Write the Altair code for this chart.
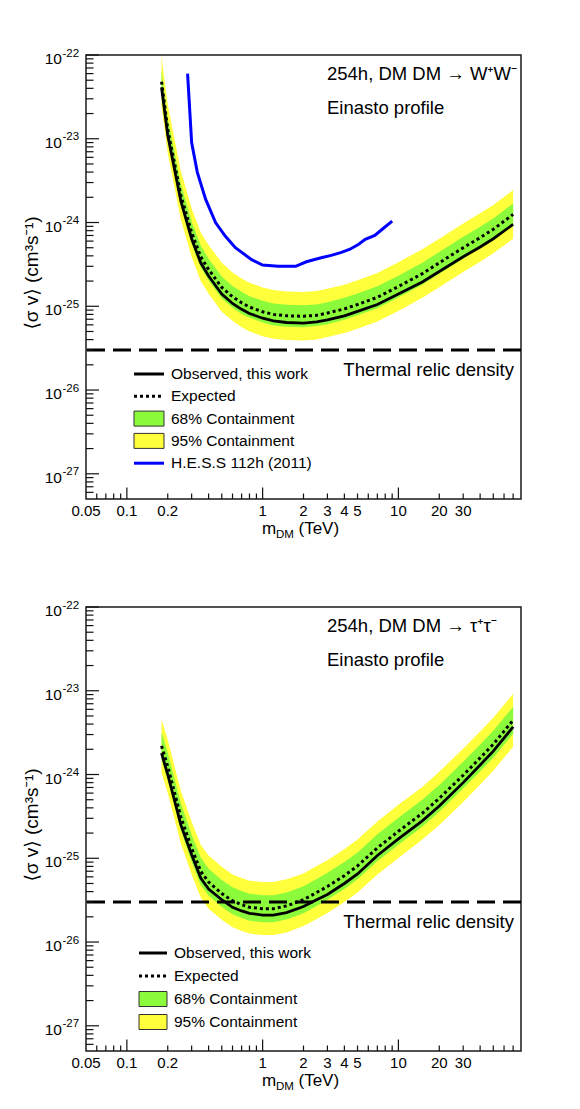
import altair as alt
import pandas as pd

FONT = "Liberation Sans, Noto Sans, DejaVu Sans"
YELLOW = "#ffff3c"
GREEN = "#8cfb3c"
BLUE = "#0000ff"
INK = "#111111"

# ---------------- data ----------------
mass = [0.18, 0.2, 0.25, 0.3, 0.35, 0.4, 0.5, 0.6, 0.7, 0.8, 1.0, 1.2, 1.5,
        2.0, 2.5, 3.0, 4.0, 5.0, 7.0, 10, 15, 20, 30, 40, 50, 70]

# W+W- channel
ww_observed = [4.1e-23, 1.1e-23, 1.8e-24, 6.4e-25, 3.3e-25, 2.3e-25, 1.4e-25, 1.08e-25, 9.2e-26,
               8.2e-26, 7.2e-26, 6.7e-26, 6.4e-26, 6.3e-26, 6.5e-26, 6.9e-26, 7.7e-26, 8.7e-26,
               1.05e-25, 1.4e-25, 1.95e-25, 2.6e-25, 3.9e-25, 5.1e-25, 6.4e-25, 9.5e-25]
ww_expected = [4.8e-23, 1.3e-23, 2.1e-24, 7.6e-25, 3.9e-25, 2.75e-25, 1.68e-25, 1.3e-25, 1.1e-25,
               9.8e-26, 8.6e-26, 8.0e-26, 7.7e-26, 7.6e-26, 7.8e-26, 8.3e-26, 9.3e-26, 1.05e-25,
               1.28e-25, 1.72e-25, 2.45e-25, 3.3e-25, 5.0e-25, 6.6e-25, 8.3e-25, 1.25e-24]
ww_68_lo = [3.5e-23, 9.6e-24, 1.55e-24, 5.6e-25, 2.9e-25, 2.04e-25, 1.24e-25, 9.6e-26, 8.1e-26,
            7.3e-26, 6.4e-26, 5.9e-26, 5.7e-26, 5.6e-26, 5.8e-26, 6.1e-26, 6.9e-26, 7.8e-26,
            9.5e-26, 1.27e-25, 1.81e-25, 2.44e-25, 3.7e-25, 4.9e-25, 6.1e-25, 9.3e-25]
ww_68_hi = [6.6e-23, 1.75e-23, 2.85e-24, 1.03e-24, 5.3e-25, 3.7e-25, 2.27e-25, 1.75e-25, 1.49e-25,
            1.32e-25, 1.16e-25, 1.08e-25, 1.04e-25, 1.03e-25, 1.05e-25, 1.12e-25, 1.26e-25, 1.42e-25,
            1.73e-25, 2.32e-25, 3.3e-25, 4.45e-25, 6.75e-25, 8.9e-25, 1.12e-24, 1.69e-24]
ww_95_lo = [2.45e-23, 6.7e-24, 1.08e-24, 3.9e-25, 2.0e-25, 1.41e-25, 8.6e-26, 6.7e-26, 5.6e-26,
            5.0e-26, 4.4e-26, 4.1e-26, 3.95e-26, 3.9e-26, 4.0e-26, 4.3e-26, 4.8e-26, 5.4e-26,
            6.6e-26, 8.8e-26, 1.26e-25, 1.69e-25, 2.56e-25, 3.4e-25, 4.3e-25, 6.4e-25]
ww_95_hi = [9.5e-23, 2.55e-23, 4.1e-24, 1.48e-24, 7.6e-25, 5.4e-25, 3.3e-25, 2.53e-25, 2.15e-25,
            1.91e-25, 1.68e-25, 1.56e-25, 1.5e-25, 1.48e-25, 1.52e-25, 1.62e-25, 1.81e-25, 2.05e-25,
            2.5e-25, 3.35e-25, 4.8e-25, 6.4e-25, 9.75e-25, 1.29e-24, 1.62e-24, 2.44e-24]

# tau+tau- channel
tt_observed = [1.8e-24, 1.0e-24, 2.5e-25, 1.1e-25, 5.8e-26, 4.3e-26, 3.2e-26, 2.6e-26, 2.35e-26,
               2.2e-26, 2.1e-26, 2.1e-26, 2.25e-26, 2.65e-26, 3.2e-26, 3.7e-26, 5.0e-26, 6.5e-26,
               1.08e-25, 1.7e-25, 2.8e-25, 4.2e-25, 8.0e-25, 1.3e-24, 1.9e-24, 3.7e-24]
tt_expected = [2.2e-24, 1.25e-24, 3.1e-25, 1.32e-25, 7.0e-26, 5.2e-26, 3.8e-26, 3.1e-26, 2.8e-26,
               2.6e-26, 2.5e-26, 2.5e-26, 2.7e-26, 3.2e-26, 3.9e-26, 4.6e-26, 6.2e-26, 8.1e-26,
               1.33e-25, 2.1e-25, 3.45e-25, 5.2e-25, 9.8e-25, 1.58e-24, 2.3e-24, 4.45e-24]
tt_68_lo = [1.52e-24, 8.6e-25, 2.14e-25, 9.1e-26, 4.8e-26, 3.6e-26, 2.62e-26, 2.14e-26, 1.93e-26,
            1.79e-26, 1.72e-26, 1.72e-26, 1.86e-26, 2.2e-26, 2.7e-26, 3.2e-26, 4.3e-26, 5.6e-26,
            9.2e-26, 1.45e-25, 2.38e-25, 3.6e-25, 6.8e-25, 1.09e-24, 1.59e-24, 3.07e-24]
tt_68_hi = [3.2e-24, 1.81e-24, 4.5e-25, 1.91e-25, 1.02e-25, 7.5e-26, 5.5e-26, 4.5e-26, 4.06e-26,
            3.77e-26, 3.63e-26, 3.63e-26, 3.9e-26, 4.64e-26, 5.65e-26, 6.7e-26, 9.0e-26, 1.17e-25,
            1.93e-25, 3.05e-25, 5.0e-25, 7.5e-25, 1.42e-24, 2.29e-24, 3.34e-24, 6.45e-24]
tt_95_lo = [1.06e-24, 6.0e-25, 1.5e-25, 6.4e-26, 3.4e-26, 2.5e-26, 1.84e-26, 1.5e-26, 1.35e-26,
            1.26e-26, 1.21e-26, 1.21e-26, 1.3e-26, 1.55e-26, 1.88e-26, 2.22e-26, 3.0e-26, 3.9e-26,
            6.4e-26, 1.01e-25, 1.67e-25, 2.5e-25, 4.7e-25, 7.6e-25, 1.11e-24, 2.15e-24]
tt_95_hi = [4.55e-24, 2.6e-24, 6.4e-25, 2.73e-25, 1.45e-25, 1.08e-25, 7.9e-26, 6.4e-26, 5.8e-26,
            5.4e-26, 5.2e-26, 5.2e-26, 5.6e-26, 6.6e-26, 8.1e-26, 9.5e-26, 1.28e-25, 1.68e-25,
            2.75e-25, 4.35e-25, 7.1e-25, 1.08e-24, 2.03e-24, 3.27e-24, 4.76e-24, 9.2e-24]

# H.E.S.S 112h (2011), W+W-
hess_mass = [0.28, 0.30, 0.33, 0.38, 0.45, 0.53, 0.63, 0.83, 1.0, 1.3, 1.75, 2.1, 2.7, 3.2,
             3.8, 4.4, 5.1, 5.7, 6.7, 7.8, 9.0]
hess_sv = [6.0e-23, 9.0e-24, 4.0e-24, 1.9e-24, 1.0e-24, 6.9e-25, 5.0e-25, 3.6e-25, 3.1e-25,
           3.0e-25, 3.0e-25, 3.4e-25, 3.8e-25, 4.05e-25, 4.4e-25, 4.8e-25, 5.5e-25, 6.3e-25,
           7.0e-25, 8.6e-25, 1.04e-24]

thermal_relic = [3e-26]

# axis ticks and labels
x_label_vals = [0.05, 0.1, 0.2, 1, 2, 3, 4, 5, 10, 20, 30]
x_label_text = ["0.05", "0.1", "0.2", "1", "2", "3", "4", "5", "10", "20", "30"]
x_major = [0.1, 1, 10]
x_minor = ([0.06, 0.07, 0.08, 0.09] + [k / 10 for k in range(2, 10)]
           + [float(k) for k in range(2, 10)] + [k * 10.0 for k in range(2, 8)])
y_label_vals = [1e-22, 1e-23, 1e-24, 1e-25, 1e-26, 1e-27]
y_label_exp = ["-22", "-23", "-24", "-25", "-26", "-27"]
y_major = y_label_vals
y_minor = [k * 10.0 ** -28 for k in range(6, 10)] + [
    k * 10.0 ** e for e in range(-27, -22) for k in range(2, 10)]

# ---------------- chart ----------------
W, H = 435, 444
XS = alt.Scale(type="log", domain=[0.05, 80], nice=False)
YS = alt.Scale(type="log", domain=[5e-28, 1e-22], nice=False)
ONE = pd.DataFrame({"k": [0]})


def X(f):
    return alt.X(f, type="quantitative", scale=XS, axis=None)


def Y(f):
    return alt.Y(f, type="quantitative", scale=YS, axis=None)


def text_at(txt, x, y, size, align="left", baseline="middle", angle=0):
    return alt.Chart(ONE).mark_text(
        text=txt, font=FONT, fontSize=size, align=align, baseline=baseline,
        color="black", angle=angle).encode(x=alt.value(x), y=alt.value(y))


def frame_layers():
    out = []
    out.append(alt.Chart(pd.DataFrame({"v": y_major})).mark_rule(color=INK, strokeWidth=1.2)
               .encode(y=Y("v"), x=alt.value(0), x2=alt.value(13)))
    out.append(alt.Chart(pd.DataFrame({"v": y_minor})).mark_rule(color=INK, strokeWidth=1.2)
               .encode(y=Y("v"), x=alt.value(0), x2=alt.value(7.5)))
    out.append(alt.Chart(pd.DataFrame({"v": x_major})).mark_rule(color=INK, strokeWidth=1.2)
               .encode(x=X("v"), y=alt.value(H), y2=alt.value(H - 11.5)))
    out.append(alt.Chart(pd.DataFrame({"v": x_minor})).mark_rule(color=INK, strokeWidth=1.2)
               .encode(x=X("v"), y=alt.value(H), y2=alt.value(H - 5.5)))
    ydf = pd.DataFrame({"v": y_label_vals, "e": y_label_exp})
    out.append(alt.Chart(ydf).mark_text(text="10", font=FONT, fontSize=15.5, align="right",
                                        baseline="middle", dy=4, color="black")
               .encode(y=Y("v"), x=alt.value(-24)))
    out.append(alt.Chart(ydf).mark_text(font=FONT, fontSize=11.5, align="left",
                                        baseline="middle", dy=-1.5, color="black")
               .encode(y=Y("v"), x=alt.value(-23.5), text="e:N"))
    xdf = pd.DataFrame({"v": x_label_vals, "t": x_label_text})
    out.append(alt.Chart(xdf).mark_text(font=FONT, fontSize=15, align="center",
                                        baseline="middle", color="black")
               .encode(x=X("v"), y=alt.value(H + 12), text="t:N"))
    # x-axis title m_DM (TeV)
    out.append(text_at("m", 176, H + 35, 17, baseline="alphabetic"))
    out.append(text_at("DM", 190, H + 39, 11.5, baseline="alphabetic"))
    out.append(text_at("(TeV)", 212.5, H + 35, 17, baseline="alphabetic"))
    # y-axis title
    out.append(text_at("⟨σ v⟩  (cm³s⁻¹)", -54, 218, 19, align="center", angle=270))
    return out


def legend_layers(entries, xs0, xs1, xt, y0, step):
    out = []
    for i, (kind, label) in enumerate(entries):
        yc = y0 + i * step
        if kind in ("green", "yellow"):
            out.append(alt.Chart(ONE).mark_rect(
                fill=GREEN if kind == "green" else YELLOW, stroke="#333333", strokeWidth=1)
                .encode(x=alt.value(xs0), x2=alt.value(xs1),
                        y=alt.value(yc - 7.5), y2=alt.value(yc + 7.5)))
        else:
            props = dict(strokeWidth=3, color="black")
            if kind == "dotted":
                props["strokeDash"] = [3, 3]
            if kind == "blue":
                props["color"] = BLUE
            out.append(alt.Chart(ONE).mark_rule(**props).encode(
                x=alt.value(xs0), x2=alt.value(xs1), y=alt.value(yc)))
        out.append(text_at(label, xt, yc, 15.5))
    return out


def panel(obs, exp, lo68, hi68, lo95, hi95, title, with_hess, legend_entries, leg_pos):
    df = pd.DataFrame({"m": mass, "obs": obs, "exp": exp,
                       "lo68": lo68, "hi68": hi68, "lo95": lo95, "hi95": hi95})
    base = alt.Chart(df)
    layers = [
        base.mark_area(color=YELLOW, clip=True).encode(x=X("m"), y=Y("lo95"), y2=alt.Y2("hi95")),
        base.mark_area(color=GREEN, clip=True).encode(x=X("m"), y=Y("lo68"), y2=alt.Y2("hi68")),
        base.mark_line(color="black", strokeWidth=2.8, clip=True).encode(x=X("m"), y=Y("obs")),
        base.mark_line(color="black", strokeWidth=3, strokeDash=[3, 3], clip=True)
        .encode(x=X("m"), y=Y("exp")),
    ]
    if with_hess:
        hdf = pd.DataFrame({"m": hess_mass, "sv": hess_sv})
        layers.append(alt.Chart(hdf).mark_line(color=BLUE, strokeWidth=3, clip=True)
                      .encode(x=X("m"), y=Y("sv")))
    layers.append(alt.Chart(pd.DataFrame({"sv": thermal_relic}))
                  .mark_rule(color="black", strokeWidth=3, strokeDash=[18, 8])
                  .encode(y=Y("sv")))
    layers.append(text_at("Thermal relic density", 428, 315, 18.5, align="right"))
    layers.append(text_at(title, 241, 19, 18.5))
    layers.append(text_at("Einasto profile", 241, 53, 18.5))
    layers += frame_layers()
    layers += legend_layers(legend_entries, *leg_pos)
    return alt.layer(*layers).properties(width=W, height=H)


common = [("solid", "Observed, this work"), ("dotted", "Expected"),
          ("green", "68% Containment"), ("yellow", "95% Containment")]

p1 = panel(ww_observed, ww_expected, ww_68_lo, ww_68_hi, ww_95_lo, ww_95_hi,
           "254h, DM DM → W⁺W⁻", True,
           common + [("blue", "H.E.S.S 112h (2011)")], (48, 78, 85, 319, 22.3))
p2 = panel(tt_observed, tt_expected, tt_68_lo, tt_68_hi, tt_95_lo, tt_95_hi,
           "254h, DM DM → τ⁺τ⁻", False, common, (53, 81, 88, 346, 23))

chart = alt.vconcat(p1, p2, spacing=108, bounds="flush").configure_view(
    stroke="#1a1a1a", strokeWidth=1.5
).properties(
    padding={"left": 14, "top": 38, "right": 5, "bottom": 5},
    background="white",
)

chart.save("out.html", embed_options={"renderer": "svg", "actions": False})
